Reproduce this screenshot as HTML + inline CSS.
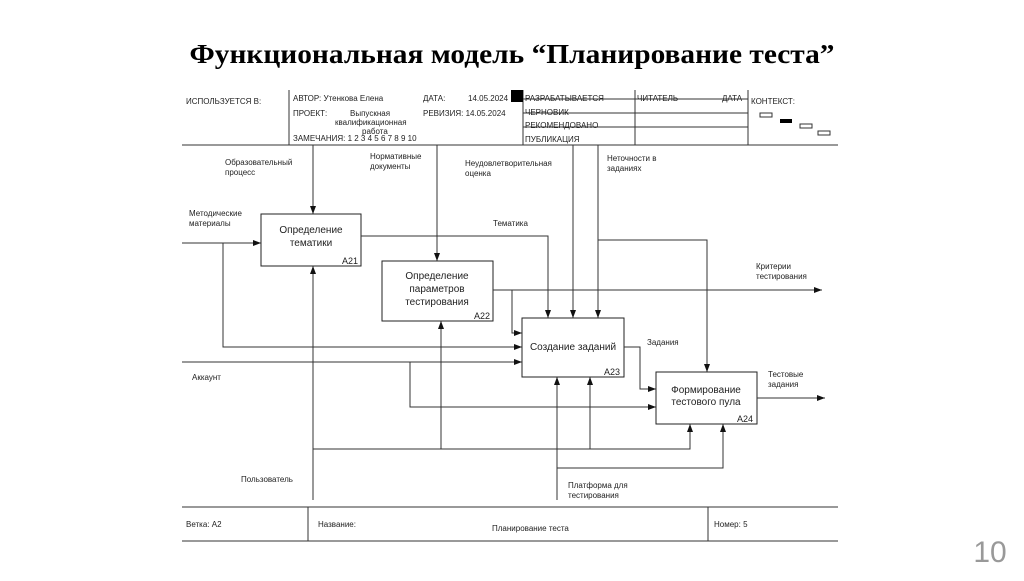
<!DOCTYPE html>
<html><head><meta charset="utf-8"><style>
html,body{margin:0;padding:0;background:#fff;}
body{width:1024px;height:576px;overflow:hidden;position:relative;}
svg text{font-family:"Liberation Sans","Noto Sans CJK SC",sans-serif;fill:#222;}
</style></head><body>
<svg width="1024" height="576" viewBox="0 0 1024 576" xmlns="http://www.w3.org/2000/svg">
<defs><marker id="a" markerWidth="8" markerHeight="6" refX="8" refY="3" orient="auto" markerUnits="userSpaceOnUse"><path d="M0,0 L8,3 L0,6z" fill="#111"/></marker></defs>
<text x="512" y="63" text-anchor="middle" textLength="645" lengthAdjust="spacingAndGlyphs" style="font-family:'Liberation Serif','Noto Serif CJK SC',serif;font-weight:bold;font-size:27px;fill:#000">Функциональная модель “Планирование теста”</text>
<g stroke="#333" stroke-width="1" fill="none">
<line x1="182" y1="145" x2="838" y2="145"/>
<line x1="289" y1="90" x2="289" y2="145"/>
<line x1="523" y1="90" x2="523" y2="145"/>
<line x1="635" y1="90" x2="635" y2="145"/>
<line x1="748" y1="90" x2="748" y2="145"/>
<line x1="523" y1="99" x2="748" y2="99"/>
<line x1="523" y1="113" x2="748" y2="113"/>
<line x1="523" y1="127" x2="748" y2="127"/>
<line x1="182" y1="507" x2="838" y2="507"/>
<line x1="308" y1="507" x2="308" y2="541"/>
<line x1="708" y1="507" x2="708" y2="541"/>
<line x1="182" y1="541" x2="838" y2="541"/>
<rect x="760" y="113" width="12" height="4"/><rect x="800" y="124" width="12" height="4"/><rect x="818" y="131" width="12" height="4"/>
</g>
<rect x="511" y="90" width="12" height="12" fill="#000"/>
<rect x="780" y="119" width="12" height="4" fill="#000"/>
<g font-size="8">
<text x="186" y="104">ИСПОЛЬЗУЕТСЯ В:</text>
<text x="293" y="101">АВТОР: Утенкова Елена</text>
<text x="293" y="116">ПРОЕКТ:</text><text x="350" y="116">Выпускная</text>
<text x="335" y="125">квалификационная</text><text x="362" y="134">работа</text>
<text x="293" y="141">ЗАМЕЧАНИЯ:  1  2  3  4  5  6  7  8  9  10</text>
<text x="423" y="101">ДАТА:</text><text x="468" y="101">14.05.2024</text>
<text x="423" y="116">РЕВИЗИЯ: 14.05.2024</text>
<text x="525" y="101">РАЗРАБАТЫВАЕТСЯ</text><text x="525" y="115">ЧЕРНОВИК</text>
<text x="525" y="128">РЕКОМЕНДОВАНО</text><text x="525" y="142">ПУБЛИКАЦИЯ</text>
<text x="637" y="101">ЧИТАТЕЛЬ</text><text x="722" y="101">ДАТА</text>
<text x="751" y="104">КОНТЕКСТ:</text>
<text x="186" y="527">Ветка:  А2</text><text x="318" y="527">Название:</text>
<text x="492" y="531">Планирование теста</text><text x="714" y="527">Номер: 5</text>
</g>
<g stroke="#222" stroke-width="1" fill="none">
<rect x="261" y="214" width="100" height="52"/>
<rect x="382" y="261" width="111" height="60"/>
<rect x="522" y="318" width="102" height="59"/>
<rect x="656" y="372" width="101" height="52"/>
</g>
<g stroke="#333" stroke-width="1" fill="none" marker-end="url(#a)">
<path d="M313 145 V214"/>
<path d="M437 145 V261"/>
<path d="M573 145 V318"/>
<path d="M598 145 V318"/>
<path d="M598 240 H707 V372"/>
<path d="M182 243 H261"/>
<path d="M223 243 V347 H522"/>
<path d="M361 236 H548 V318"/>
<path d="M493 290 H822"/>
<path d="M512 290 V333 H522"/>
<path d="M182 362 H522"/>
<path d="M410 362 V407 H656"/>
<path d="M624 347 H640 V389 H656"/>
<path d="M757 398 H825"/>
<path d="M313 500 V266"/>
<path d="M313 449 H441 V321"/>
<path d="M441 449 H590 V377"/>
<path d="M590 449 H690 V424"/>
<path d="M557 500 V377"/>
<path d="M557 468 H723 V424"/>
</g>
<g font-size="8">
<text x="225" y="165">Образовательный</text><text x="225" y="175">процесс</text>
<text x="370" y="159">Нормативные</text><text x="370" y="169">документы</text>
<text x="465" y="166">Неудовлетворительная</text><text x="465" y="176">оценка</text>
<text x="607" y="161">Неточности в</text><text x="607" y="171">заданиях</text>
<text x="189" y="216">Методические</text><text x="189" y="226">материалы</text>
<text x="493" y="226">Тематика</text>
<text x="756" y="269">Критерии</text><text x="756" y="279">тестирования</text>
<text x="647" y="345">Задания</text>
<text x="192" y="380">Аккаунт</text>
<text x="768" y="377">Тестовые</text><text x="768" y="387">задания</text>
<text x="241" y="482">Пользователь</text>
<text x="568" y="488">Платформа для</text><text x="568" y="498">тестирования</text>
<text x="311" y="233" text-anchor="middle" font-size="10">Определение</text>
<text x="311" y="246" text-anchor="middle" font-size="10">тематики</text>
<text x="342" y="264" font-size="9">A21</text>
<text x="437" y="279" text-anchor="middle" font-size="10">Определение</text>
<text x="437" y="292" text-anchor="middle" font-size="10">параметров</text>
<text x="437" y="305" text-anchor="middle" font-size="10">тестирования</text>
<text x="474" y="319" font-size="9">A22</text>
<text x="573" y="350" text-anchor="middle" font-size="10">Создание заданий</text>
<text x="604" y="375" font-size="9">A23</text>
<text x="706" y="393" text-anchor="middle" font-size="10">Формирование</text>
<text x="706" y="405" text-anchor="middle" font-size="10">тестового пула</text>
<text x="737" y="422" font-size="9">A24</text>
</g>
<text x="990" y="562" text-anchor="middle" font-size="30" style="fill:#999">10</text>
</svg>
</body></html>
